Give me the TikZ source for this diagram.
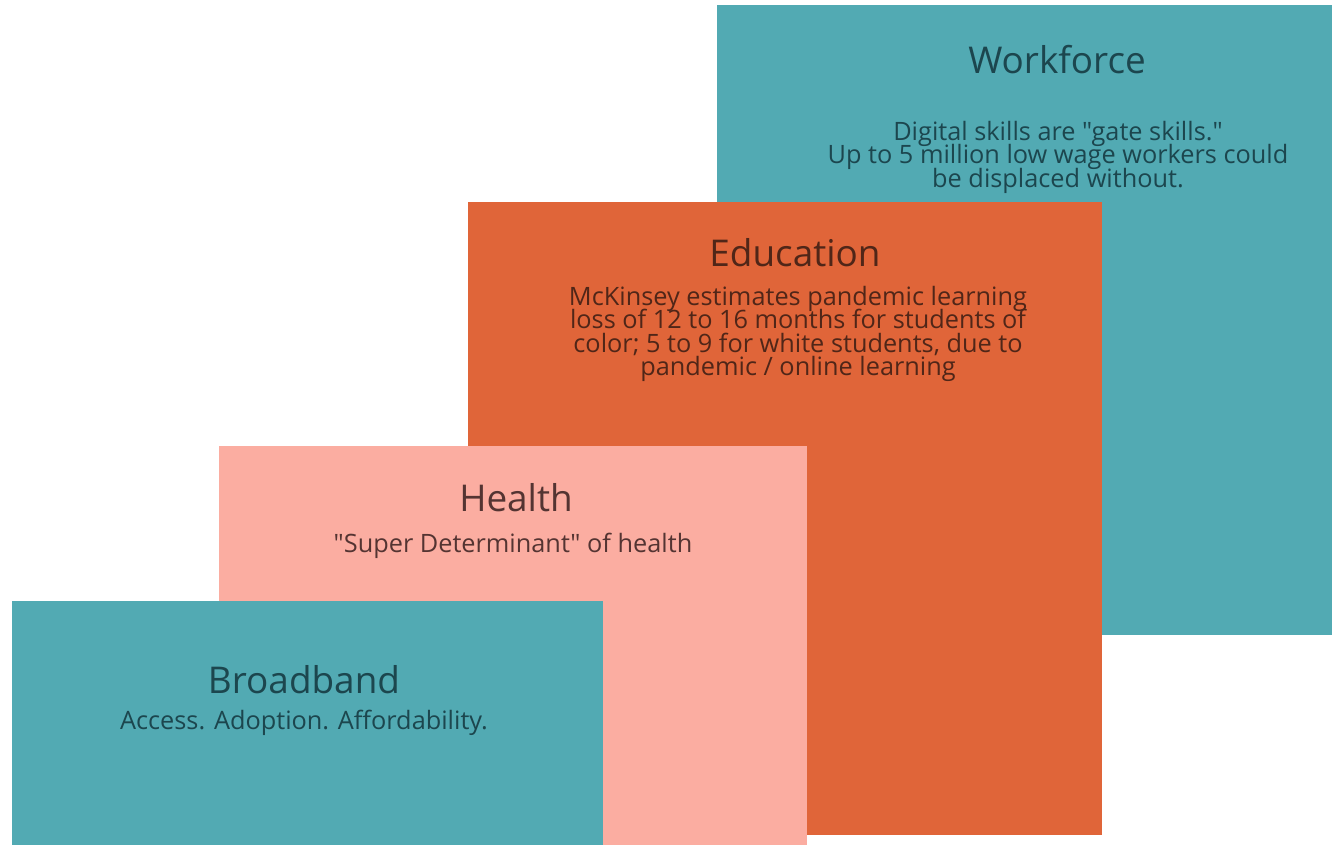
\documentclass[tikz,border=0pt]{standalone}
\usepackage{fontspec}
\setmainfont{Open Sans}[Ligatures=TeXOff]
\usetikzlibrary{positioning}
\definecolor{PanelTeal}{RGB}{82, 170, 179}
\definecolor{PanelOrange}{RGB}{224, 101, 57}
\definecolor{PanelPink}{RGB}{251, 173, 161}
\definecolor{InkTeal}{RGB}{28, 70, 78}
\definecolor{InkOrange}{RGB}{80, 38, 24}
\definecolor{InkPink}{RGB}{84, 52, 50}
\newcommand{\blurbfont}{\fontsize{14.4}{13.4}\selectfont\setlength{\lineskiplimit}{-20pt}}

\begin{document}
\begin{tikzpicture}[x=0.02cm, y=-0.02cm,
    heading/.style={font=\fontsize{21}{24}\selectfont, inner sep=0pt},
    blurb/.style={font=\blurbfont, align=center, inner sep=0pt}]
                \useasboundingbox[fill=white] (0,0) rectangle (1332,845);
                % panels, back to front
                \fill[PanelTeal] (717,5) rectangle (1332,635);
                \fill[PanelOrange] (468,202) rectangle (1102,835);
                \fill[PanelPink] (219,446) rectangle (807,845);
                \fill[PanelTeal] (12,601) rectangle (603,845);
                % texts
                \node[heading, text=InkTeal] (workT) at (1057,60) {Workforce};
                \node[blurb, text=InkTeal] (workB) at (1058,157) {Digital skills are "gate skills."\\Up to 5 million low wage workers could\\be displaced without.};
                \node[heading, text=InkOrange] (eduT) at (795,253) {Education};
                \node[blurb, text=InkOrange] (eduB) at (798,334) {McKinsey estimates pandemic learning\\loss of 12 to 16 months for students of\\color; 5 to 9 for white students, due to\\pandemic / online learning};
                \node[heading, text=InkPink] (healthT) at (516,498) {Health};
                \node[blurb, text=InkPink] (healthB) at (513,546) {"Super Determinant" of health};
                \node[heading, text=InkTeal] (bandT) at (304,680) {Broadband};
                \node[blurb, text=InkTeal] (bandB) at (304,723) {Access. Adoption. Affordability.};
            \end{tikzpicture}
\end{document}
